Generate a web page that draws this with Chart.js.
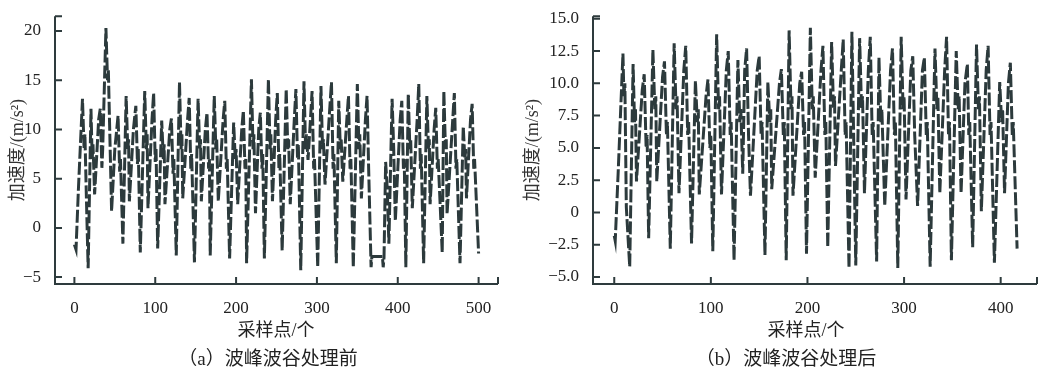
<!DOCTYPE html>
<html>
<head>
<meta charset="utf-8">
<script src="https://cdn.jsdelivr.net/npm/chart.js@4.4.1/dist/chart.umd.min.js"></script>
<style>
  html, body { margin: 0; padding: 0; background: #fff; }
  body { width: 1040px; height: 372px; position: relative; overflow: hidden;
         font-family: 'Liberation Serif', 'Noto Sans CJK SC', serif; color: #222; }
  .cv { position: absolute; top: 0; }
  .lbl { position: absolute; white-space: nowrap; transform: translate(-50%, -50%); }
  .xt { font-size: 18px; }
  .cap { font-size: 19px; }
</style>
</head>
<body>
<div class="cv" style="left:0;width:520px;height:345px;"><canvas id="ca" width="520" height="345"></canvas></div>
<div class="cv" style="left:520px;width:520px;height:345px;"><canvas id="cb" width="520" height="345"></canvas></div>
<div class="lbl xt" style="left:276px;top:328px;">采样点/个</div>
<div class="lbl xt" style="left:806px;top:328px;">采样点/个</div>
<div class="lbl cap" style="left:268px;top:356px;">（a）波峰波谷处理前</div>
<div class="lbl cap" style="left:786px;top:356px;">（b）波峰波谷处理后</div>
<script>
// ---- data: turning points of the acceleration signal (sample index, m/s^2) ----
const sampleA = [0,2,5,10,12,13,15,17,20.5,22,23,25,30,32,34,35,39,41,42,46,50,54,56,57,60,64,66,67,68,73,76,78,79,81.5,87,89,90,91,96,98,100,101,103,108,110,111,112,118,120,122,123,126,130,132,133,134,140,142,144,145,148.5,153,155,156,157,162,164,166,167,168,173,175,176,178,184,186,188,189,192,197,199,200,202,207,209,211,212,213,219,221,222,224,228,230,232,233,235,240,242,243,245,249,251,253,254,257,262,264,265,267,272,274,276,277,280,284,286,287,289,292,294,296,297,301,305,307,308,310,315,318,320,321,324,327,329,330,332,337,339,341,342,345,350,352,353,355,360,362,364,367,368,381,382,383,385,387,389,393,395,397,403,405,407,408,410,413,415,416,418,424,426,428,429,432,436,438,439,440,445,447,449,450,455,457,459,460,461,468,470,472,473,477,481,483,484,485,490,492,494,495,500];
const accelA  = [-1.7,-2.2,4,13.1,8,9.5,2.5,-4.1,12.1,7,8.5,3.4,11,12.1,6.1,8,20.3,15,16,1.7,8,11.4,5.7,7,-1.6,13.4,8,9,2.7,10,12.4,6.5,8,-2.5,13.9,8,9.5,2.0,11,13.7,6.7,8,-2.1,10.9,7,8.5,2.4,10,11.1,5.5,7,-2.8,14.8,8,9.5,3.0,11,13.2,6,7.5,-3.5,13.1,8,9,2.7,10,11.7,6,7,-2.8,13.4,8,9,2.7,11,12.9,6,7,-3.1,10.7,7,8,2.4,10,11.9,6,7,-3.6,15.1,8,9.5,1.5,10,11.7,6,7.5,-3.1,15.1,8,9.5,2.7,11,13.7,6,7.5,-2.3,14.1,8,9,2.4,11,14.1,7,8.5,-4.3,14.9,8,9.5,6.9,11,13.9,6,7,-4.0,14.4,8,9,4.4,11,14.8,6,7.5,-3.6,12.9,8,9,4.7,11,13.4,6,7,-4.0,14.6,8,9.5,3,11,13.4,6,-4.0,-2.9,-2.9,-4.0,-3.0,6.7,4,-1.6,13.1,8,0.7,11,12.9,6,7,-4.0,13.6,8,9,2.0,11,14.6,6,7.5,-3.6,13.4,8,9,2.4,10,12.2,6,7,-2.5,13.9,8,9,1.4,11,13.7,6,7,-3.6,10.3,7,8,3.0,11,12.6,6,7,-2.6];

const sampleB = [0,1,4,9,10,11,12.5,16,19.5,21,22,23,29,31,33,34,35.6,40,42,43,44,50,52,54,55,58,62,64,65,67,72,74,76,77,80,84,86,87,88,95,97,99,100,102,106,108,109,111,116,118,120,121,124,128,130,131,133,135,137,139,141,148,150,152,153,156,159,161,162,163,171,173,175,176,178,181,183,184,185,192,194,196,197,199,203,205,206,208,214,216,218,219,221,225,227,228,229,235,237,239,240,243,246,248,250,254,256,257,259,263,265,267,268,271.6,274,276,277,280,286,288,290,291,293.5,297,299,300,302,307,309,311,314,319,321,323,324,327,332,334,335,337,342,344,346,347,349,354,356,357,359,363,365.5,367,368,371,375,377,378,380,385,387,389,390,393.5,399,401,402,404,408,410,412,413,417];
const accelB  = [-1.8,-2.2,3,12.3,9,10,0.4,-4.2,11.5,7,8,2.4,9.5,10.7,5,6,-2.0,12.6,8,9,2.4,10.5,11.7,6,7,-2.8,13.1,8,9,1.5,11,12.9,6,7,-2.4,10.2,7,8,1.4,9,10.3,5,6,-3.0,13.8,8,9,1.4,11,12.5,6,7,-3.7,11.8,7,8,3,11,12.7,6,1.3,11,12.1,6,7,-3.3,10.1,7,8,1.8,10,11.1,6,7,-3.7,14.1,8,9,1.3,10,10.9,6,7,-3.2,14.3,8,9,2.7,11,12.9,6,7,-2.7,13.2,8,9,3.6,11,13.4,6,7,-4.3,14.0,5,-4.1,13.5,8,9,1.5,11,13.6,6,7,-3.8,12.0,7,8,0.5,11,12.7,6,7,-4.3,13.6,8,9,1.0,11,12.1,6,0.5,11,12.0,6,7,-4.2,12.7,8,9,1.5,11,13.6,6,7,-3.7,12.5,8,9,1.5,10,11.5,6,7,-2.7,13.0,8,9,0.1,11,12.9,6,7,-3.9,10.1,7,8,1.5,10,11.6,6,7,-2.8];

// ---- tick labels ----
const xTicksA = [0,100,200,300,400,500];
const yTicksA = [-5,0,5,10,15,20];
const xTicksB = [0,100,200,300,400];
const yTicksB = [-5,-2.5,0,2.5,5,7.5,10,12.5,15];

const yTitle = '加速度/(m/s²)';
const FONT = "'Liberation Serif', 'Noto Sans CJK SC', serif";
const AXIS = '#2e3b3d';
const LINE = '#2c3a3c';

const inwardAxes = {
  id: 'inwardAxes',
  afterDatasetsDraw(chart) {
    const {ctx, chartArea: a, scales: {x, y}} = chart;
    const L = 7;
    ctx.save();
    ctx.strokeStyle = AXIS;
    ctx.lineWidth = 2;
    ctx.beginPath();
    ctx.moveTo(a.left, a.top); ctx.lineTo(a.left, a.bottom); ctx.lineTo(a.right, a.bottom);
    ctx.moveTo(a.left, a.top); ctx.lineTo(a.left + L, a.top);
    ctx.moveTo(a.right, a.bottom); ctx.lineTo(a.right, a.bottom - L);
    y.ticks.forEach(t => { const p = y.getPixelForValue(t.value); ctx.moveTo(a.left, p); ctx.lineTo(a.left + L, p); });
    x.ticks.forEach(t => { const p = x.getPixelForValue(t.value); ctx.moveTo(p, a.bottom); ctx.lineTo(p, a.bottom - L); });
    ctx.stroke();
    ctx.restore();
  }
};

function makeChart(id, xs, ys, xTicks, yTicks, xr, yr, yWidth, padRight, titlePad, fmt) {
  new Chart(document.getElementById(id), {
    type: 'line',
    data: { datasets: [{
      data: xs.map((v, i) => ({x: v, y: ys[i]})),
      borderColor: LINE, borderWidth: 3, borderDash: [13, 3],
      borderJoinStyle: 'miter', borderCapStyle: 'butt',
      pointRadius: 0, tension: 0, fill: false
    }]},
    options: {
      responsive: false, animation: false, events: [],
      layout: { padding: { top: 13, right: padRight, bottom: 0, left: 0 } },
      plugins: { legend: { display: false }, tooltip: { enabled: false } },
      scales: {
        x: {
          type: 'linear', min: xr[0], max: xr[1],
          grid: { display: false }, border: { display: false },
          afterBuildTicks: s => { s.ticks = xTicks.map(v => ({value: v})); },
          afterFit: s => { s.height = 345 - 284; },
          ticks: { font: { family: FONT, size: 17 }, color: '#222', padding: 6, maxRotation: 0,
                   callback: v => String(v) }
        },
        y: {
          min: yr[0], max: yr[1],
          grid: { display: false }, border: { display: false },
          afterBuildTicks: s => { s.ticks = yTicks.map(v => ({value: v})); },
          afterFit: s => { s.width = yWidth; },
          ticks: { font: { family: FONT, size: 17 }, color: '#222', padding: 6, callback: fmt },
          title: { display: true, text: yTitle, color: '#333',
                   font: { family: FONT, size: 18 }, padding: { top: titlePad, bottom: 0 } }
        }
      }
    },
    plugins: [inwardAxes]
  });
}

const fmtA = v => String(v).replace('-', '−');
const fmtB = v => v === 0 ? '0' : v.toFixed(1).replace('-', '−');

makeChart('ca', sampleA, accelA, xTicksA, yTicksA, [-24, 524], [-5.7, 21.5], 55, 22, 7, fmtA);
makeChart('cb', sampleB, accelB, xTicksB, yTicksB, [-22, 437.6], [-5.54, 15.2], 73, 3, 2, fmtB);
</script>
</body>
</html>
